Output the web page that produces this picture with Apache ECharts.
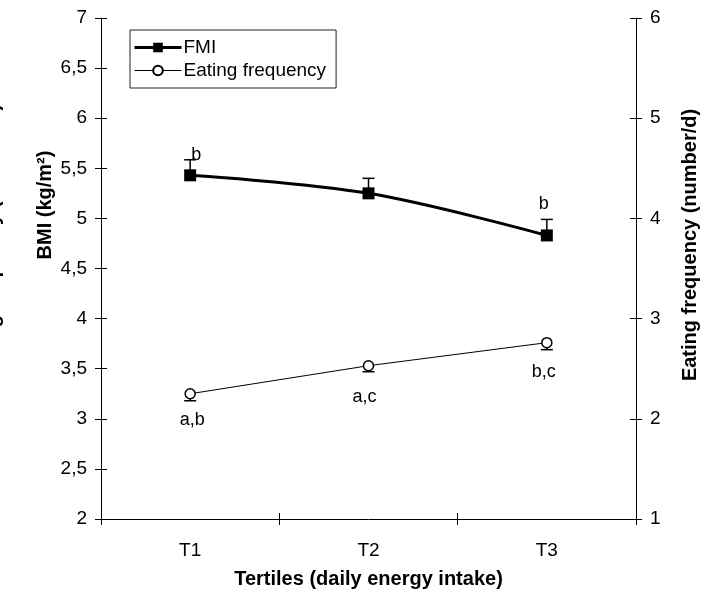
<!DOCTYPE html>
<html>
<head>
<meta charset="utf-8">
<script src="https://cdn.jsdelivr.net/npm/echarts@6/dist/echarts.min.js"></script>
<style>
html,body{margin:0;padding:0;background:#fff;}
#chart{width:712px;height:594px;}
</style>
</head>
<body>
<div id="chart"></div>
<script>
// ---- data ----
var categories = ['T1', 'T2', 'T3'];
var fmiValues = [5.43, 5.25, 4.83];
var fmiUpper = [5.585, 5.40, 4.99];
var efValues = [2.25, 2.53, 2.76];
var efLower = [2.18, 2.47, 2.69];
var fmiLetters = ['b', '', 'b'];
var efLetters = ['a,b', 'a,c', 'b,c'];

// ---- presentation ----
var FONT = 'Liberation Sans, Arial, sans-serif';
var fmiOffsets = [[6, 0], [0, 0], [-3, -11]];
var efOffsets = [[2, 7], [-4, 12], [-3, 10]];

function comma(v) { return String(v).replace('.', ','); }

var fmiData = fmiValues.map(function (v, i) {
  var d = { value: v };
  if (fmiLetters[i]) {
    d.label = { show: true, formatter: fmiLetters[i], position: 'top', offset: fmiOffsets[i],
      color: '#000', fontSize: 18, fontFamily: FONT };
  }
  return d;
});
var efData = efValues.map(function (v, i) {
  return { value: v, label: { show: true, formatter: efLetters[i], position: 'bottom', offset: efOffsets[i],
    color: '#000', fontSize: 18, fontFamily: FONT } };
});

function errorBar(lineW) {
  return function (params, api) {
    var x = api.value(0);
    var p0 = api.coord([x, api.value(1)]);
    var p1 = api.coord([x, api.value(2)]);
    var hw = 6;
    return {
      type: 'group',
      children: [
        { type: 'line', shape: { x1: p0[0], y1: p0[1], x2: p1[0], y2: p1[1] }, style: { stroke: '#000', lineWidth: lineW } },
        { type: 'line', shape: { x1: p1[0] - hw, y1: p1[1], x2: p1[0] + hw, y2: p1[1] }, style: { stroke: '#000', lineWidth: lineW } }
      ]
    };
  };
}

var axisLine = { show: true, lineStyle: { color: '#000', width: 1 } };
var tickLabel = { color: '#000', fontSize: 19, fontFamily: FONT };
var titleFont = 'bold 20px ' + FONT;

var option = {
  animation: false,
  backgroundColor: '#fff',
  grid: { left: 101, right: 76, top: 18, bottom: 74, containLabel: false },
  legend: {
    left: 130, top: 30, orient: 'vertical',
    data: [
      { name: 'FMI', lineStyle: { width: 3, color: '#000' } },
      { name: 'Eating frequency', lineStyle: { width: 1, color: '#000' } }
    ],
    itemWidth: 47, itemHeight: 12, itemGap: 4,
    borderColor: '#222', borderWidth: 1, borderRadius: 0,
    padding: [8, 10, 8, 3],
    textStyle: { color: '#000', fontSize: 19, fontFamily: FONT, padding: [0, 0, 0, -3] }
  },
  xAxis: [
    {
      type: 'category', data: categories, boundaryGap: true,
      axisLine: axisLine,
      axisTick: { show: true, inside: false, length: 6, lineStyle: { color: '#000' } },
      axisLabel: Object.assign({ margin: 22 }, tickLabel),
      splitLine: { show: false },
      name: 'Tertiles (daily energy intake)', nameLocation: 'middle', nameGap: 50,
      nameTextStyle: { color: '#000', fontSize: 20, fontWeight: 'bold', fontFamily: FONT }
    },
    {
      type: 'category', data: categories, boundaryGap: true, position: 'bottom',
      axisLine: { show: false },
      axisTick: { show: true, inside: true, length: 6, lineStyle: { color: '#000' } },
      axisLabel: { show: false }, splitLine: { show: false }
    }
  ],
  yAxis: [
    {
      type: 'value', min: 2, max: 7, interval: 0.5, position: 'left',
      axisLine: axisLine,
      axisTick: { show: true, inside: false, length: 6, lineStyle: { color: '#000' } },
      axisLabel: Object.assign({ margin: 14, formatter: comma }, tickLabel),
      splitLine: { show: false }
    },
    {
      type: 'value', min: 1, max: 6, interval: 1, position: 'right',
      axisLine: axisLine,
      axisTick: { show: true, inside: false, length: 6, lineStyle: { color: '#000' } },
      axisLabel: Object.assign({ margin: 14, formatter: comma }, tickLabel),
      splitLine: { show: false }
    },
    {
      type: 'value', min: 2, max: 7, interval: 0.5, position: 'left',
      axisLine: { show: false },
      axisTick: { show: true, inside: true, length: 6, lineStyle: { color: '#000' } },
      axisLabel: { show: false }, splitLine: { show: false }
    },
    {
      type: 'value', min: 1, max: 6, interval: 1, position: 'right',
      axisLine: { show: false },
      axisTick: { show: true, inside: true, length: 6, lineStyle: { color: '#000' } },
      axisLabel: { show: false }, splitLine: { show: false }
    }
  ],
  graphic: [
    {
      type: 'text', x: 45, y: 205, rotation: Math.PI / 2, z: 100,
      style: { text: 'BMI (kg/m²)', fill: '#000', font: titleFont, align: 'center', verticalAlign: 'middle' }
    },
    {
      type: 'text', x: 690, y: 245, rotation: Math.PI / 2, z: 100,
      style: { text: 'Eating frequency (number/d)', fill: '#000', font: titleFont, align: 'center', verticalAlign: 'middle' }
    },
    {
      type: 'text', x: -7, y: 240, rotation: Math.PI / 2, z: 100,
      style: { text: 'Eating frequency (number/d)', fill: '#000', font: titleFont, align: 'center', verticalAlign: 'middle' }
    }
  ],
  series: [
    {
      type: 'custom', name: 'fmiErr', xAxisIndex: 0, yAxisIndex: 0, z: 1,
      renderItem: errorBar(1.5),
      data: fmiValues.map(function (v, i) { return [i, v, fmiUpper[i]]; })
    },
    {
      type: 'custom', name: 'efErr', xAxisIndex: 0, yAxisIndex: 1, z: 1,
      renderItem: errorBar(1.5),
      data: efValues.map(function (v, i) { return [i, v, efLower[i]]; })
    },
    {
      type: 'line', name: 'FMI', xAxisIndex: 0, yAxisIndex: 0, z: 3,
      data: fmiData, smooth: 0.35,
      symbol: 'rect', symbolSize: 12,
      lineStyle: { color: '#000', width: 3 },
      itemStyle: { color: '#000', borderColor: '#000', borderWidth: 0 }
    },
    {
      type: 'line', name: 'Eating frequency', xAxisIndex: 0, yAxisIndex: 1, z: 3,
      data: efData, smooth: false,
      symbol: 'circle', symbolSize: 10, showSymbol: true,
      lineStyle: { color: '#000', width: 1 },
      itemStyle: { color: '#fff', borderColor: '#000', borderWidth: 1.5 }
    }
  ]
};

var chart = echarts.init(document.getElementById('chart'), null, { renderer: 'canvas' });
chart.setOption(option);
</script>
</body>
</html>
